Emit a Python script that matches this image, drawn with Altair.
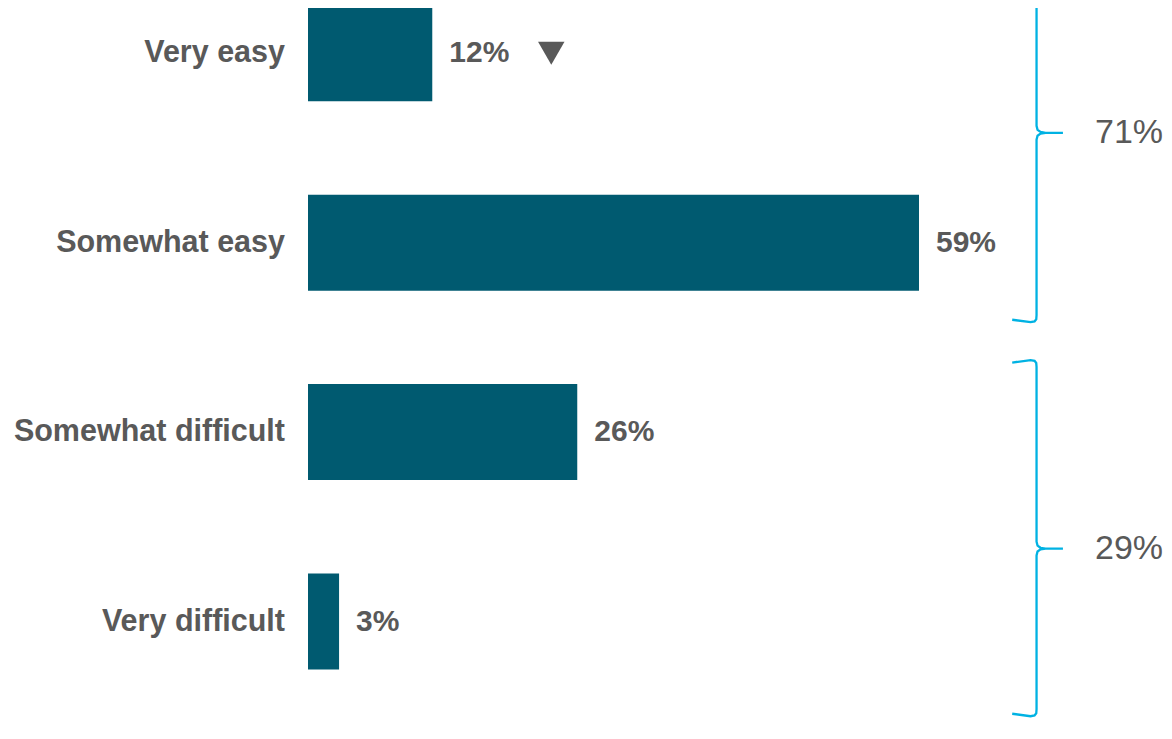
import altair as alt
import pandas as pd

# ---------------- data ----------------
categories = ["Very easy", "Somewhat easy", "Somewhat difficult", "Very difficult"]
values = [12, 59, 26, 3]
value_labels = ["12%", "59%", "26%", "3%"]
trend = ["down", "", "", ""]

group_labels = ["71%", "29%"]
group_top = [-0.58, 1.62]      # in category-index units
group_mid = [0.42, 2.615]
group_bottom = [1.42, 3.50]

# ---------------- styling ----------------
BAR = "#005A70"
TEXT = "#595959"
BRACE = "#00B2E3"
FONT_B = "Liberation Sans"
FONT_R = "Liberation Sans"

W, H = 1156, 716
PX_X = 1 / 10.356          # % units per pixel
PX_Y = 1 / 192.11          # index units per pixel

y0 = -40.79 * PX_Y
yscale = alt.Scale(domain=[y0, y0 + H * PX_Y], nice=False, zero=False, reverse=True)
xscale = alt.Scale(domain=[-300 * PX_X, (W - 300) * PX_X], nice=False, zero=False)

brace_x = 70.35
brace_hook = 68.0
brace_tip = 72.9
group_label_x = 76.0

df = pd.DataFrame({
    "cat": categories,
    "pos": list(range(len(categories))),
    "value": values,
    "zero": [0] * len(values),
    "label": value_labels,
    "trend": trend,
})

rows = []
for gi, (t, m, b) in enumerate(zip(group_top, group_mid, group_bottom)):
    pts = [
        (brace_hook, t + 2.5 * PX_Y),
        (brace_x - 6 * PX_X, t),
        (brace_x - 2 * PX_X, t + 0.8 * PX_Y),
        (brace_x - 0.3 * PX_X, t + 3 * PX_Y),
        (brace_x, t + 7 * PX_Y),
        (brace_x, m - 7 * PX_Y),
        (brace_x + 1 * PX_X, m - 3 * PX_Y),
        (brace_x + 4 * PX_X, m - 0.8 * PX_Y),
        (brace_x + 9 * PX_X, m),
        (brace_tip, m),
        (brace_x + 9 * PX_X, m),
        (brace_x + 4 * PX_X, m + 0.8 * PX_Y),
        (brace_x + 1 * PX_X, m + 3 * PX_Y),
        (brace_x, m + 7 * PX_Y),
        (brace_x, b - 7 * PX_Y),
        (brace_x - 0.3 * PX_X, b - 3 * PX_Y),
        (brace_x - 2 * PX_X, b - 0.8 * PX_Y),
        (brace_x - 6 * PX_X, b),
        (brace_hook, b - 2.5 * PX_Y),
    ]
    for k, (bx, by) in enumerate(pts):
        rows.append({"g": gi, "o": k, "bx": bx, "by": by})
brace_df = pd.DataFrame(rows)

group_df = pd.DataFrame({"label": group_labels, "mid": group_mid,
                         "gx": [group_label_x] * len(group_labels)})


def X(f):
    return alt.X(f, scale=xscale, axis=None)


def Y(f):
    return alt.Y(f, scale=yscale, axis=None)


bars = alt.Chart(df).mark_bar(orient="horizontal", size=96, color=BAR).encode(
    x=X("value:Q"), x2="zero:Q", y=Y("pos:Q")
)

cat_text = alt.Chart(df).mark_text(
    align="right", baseline="middle", dx=-23, font=FONT_B, fontWeight="bold",
    fontSize=30.5, color=TEXT
).encode(x=X("zero:Q"), y=Y("pos:Q"), text="cat:N")

val_text = alt.Chart(df).mark_text(
    align="left", baseline="middle", dx=17, font=FONT_B, fontWeight="bold",
    fontSize=30, color=TEXT
).encode(x=X("value:Q"), y=Y("pos:Q"), text="label:N")

tri = alt.Chart(df).transform_filter(alt.datum.trend == "down").mark_point(
    shape="triangle-down", filled=True, size=700, color=TEXT, opacity=1, xOffset=119
).encode(x=X("value:Q"), y=Y("pos:Q"))

braces = alt.Chart(brace_df).mark_line(color=BRACE, strokeWidth=2.3).encode(
    x=X("bx:Q"), y=Y("by:Q"), detail="g:N", order="o:Q"
)

grp_text = alt.Chart(group_df).mark_text(
    align="left", baseline="middle", font=FONT_R, fontSize=34, color=TEXT
).encode(x=X("gx:Q"), y=Y("mid:Q"), text="label:N")

chart = alt.layer(bars, cat_text, val_text, tri, braces, grp_text).properties(
    width=W, height=H, autosize=alt.AutoSizeParams(type="none"), padding=0
).configure_view(stroke=None)

chart.save("out.html", embed_options={"renderer": "svg", "actions": False})
